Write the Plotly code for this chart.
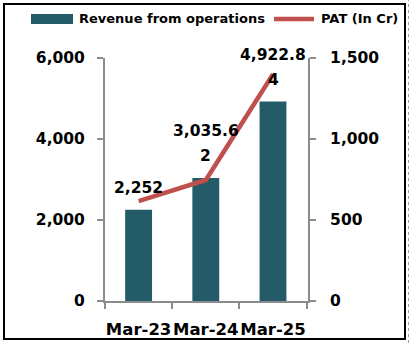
import plotly.graph_objects as go

# ---- data ----
periods = ["Mar-23", "Mar-24", "Mar-25"]
revenue = [2252, 3035.62, 4922.84]        # Revenue from operations (left axis)
pat = [617, 747, 1400]                    # PAT in Cr (right axis)
left_ticks = [0, 2000, 4000, 6000]
right_ticks = [0, 500, 1000, 1500]

# ---- styling ----
BAR_COLOR = "#245B68"
LINE_COLOR = "#C0504D"
AXIS_COLOR = "#8C8C8C"
FONT = "DejaVu Sans"

W, H = 411, 343
L, R, T, B = 105, 103, 58, 42
PW, PH = W - L - R, H - T - B


def px(x):
    """pixel x -> paper x"""
    return (x - L) / PW


def py(y):
    """pixel y (from top) -> paper y"""
    return (H - B - y) / PH


fig = go.Figure()

fig.add_trace(go.Bar(
    x=periods, y=revenue, name="Revenue from operations",
    marker=dict(color=BAR_COLOR, line=dict(width=0)),
    yaxis="y", showlegend=False,
))

fig.add_trace(go.Scatter(
    x=periods, y=pat, name="PAT (In Cr)", mode="lines",
    line=dict(color=LINE_COLOR, width=4.5),
    yaxis="y2", showlegend=False,
))


def fmt_label(v, width=7):
    s = f"{v:,.2f}".rstrip("0").rstrip(".")
    return [s[i:i + width] for i in range(0, len(s), width)]


annotations = []
label_font = dict(family=FONT, size=15.5, color="black", weight="bold")
for cat, v in zip(periods, revenue):
    lines = fmt_label(v)
    n = len(lines)
    for i, line in enumerate(lines):
        annotations.append(dict(
            x=cat, y=v, xref="x", yref="y", text=line, showarrow=False,
            xanchor="center", yanchor="middle",
            yshift=22 + 25 * (n - 1 - i), font=label_font,
        ))

# legend drawn as swatches + text above the plot
legend_font = dict(family=FONT, size=13, color="black", weight="bold")
annotations.append(dict(x=px(77), y=py(19), xref="paper", yref="paper",
                        text="Revenue from operations", showarrow=False,
                        xanchor="left", yanchor="middle", font=legend_font))
annotations.append(dict(x=px(319), y=py(19), xref="paper", yref="paper",
                        text="PAT (In Cr)", showarrow=False,
                        xanchor="left", yanchor="middle", font=legend_font))

shapes = [
    # legend swatches
    dict(type="rect", xref="paper", yref="paper",
         x0=px(31), x1=px(73), y0=py(24), y1=py(14),
         fillcolor=BAR_COLOR, line=dict(width=0)),
    dict(type="line", xref="paper", yref="paper",
         x0=px(274), x1=px(314), y0=py(19), y1=py(19),
         line=dict(color=LINE_COLOR, width=4.5)),
    # outer frame
    dict(type="rect", xref="paper", yref="paper",
         x0=px(4), x1=px(405), y0=py(339), y1=py(4),
         line=dict(color="black", width=2), fillcolor="rgba(0,0,0,0)"),
    # dotted edge on the right
    dict(type="line", xref="paper", yref="paper",
         x0=px(408.5), x1=px(408.5), y0=py(343), y1=py(0),
         line=dict(color="#A0A0A0", width=1, dash="dot")),
]

tick_font = dict(family=FONT, size=15.5, color="black", weight="bold")

fig.update_layout(
    width=W, height=H,
    margin=dict(l=L, r=R, t=T, b=B, pad=0),
    paper_bgcolor="white", plot_bgcolor="white",
    bargap=0.6,
    showlegend=False,
    xaxis=dict(
        type="category", showgrid=False, zeroline=False, automargin=False,
        showline=True, linecolor=AXIS_COLOR, linewidth=2,
        ticks="outside", tickson="boundaries", ticklen=6,
        tickcolor=AXIS_COLOR, tickwidth=2, tickangle=0,
        tickfont=dict(family=FONT, size=16.5, color="black", weight="bold"),
        ticklabelstandoff=12,
    ),
    yaxis=dict(
        range=[0, 6000], tickvals=left_ticks, tickformat=",", automargin=False,
        showgrid=False, zeroline=False,
        showline=True, linecolor=AXIS_COLOR, linewidth=2,
        ticks="outside", ticklen=6, tickcolor=AXIS_COLOR, tickwidth=2,
        tickfont=tick_font, ticklabelstandoff=9,
    ),
    yaxis2=dict(
        range=[0, 1500], tickvals=right_ticks, tickformat=",", automargin=False,
        overlaying="y", side="right",
        showgrid=False, zeroline=False,
        showline=True, linecolor=AXIS_COLOR, linewidth=2,
        ticks="outside", ticklen=6, tickcolor=AXIS_COLOR, tickwidth=2,
        tickfont=tick_font, ticklabelstandoff=11,
    ),
    annotations=annotations,
    shapes=shapes,
)

fig.write_html("out.html")
